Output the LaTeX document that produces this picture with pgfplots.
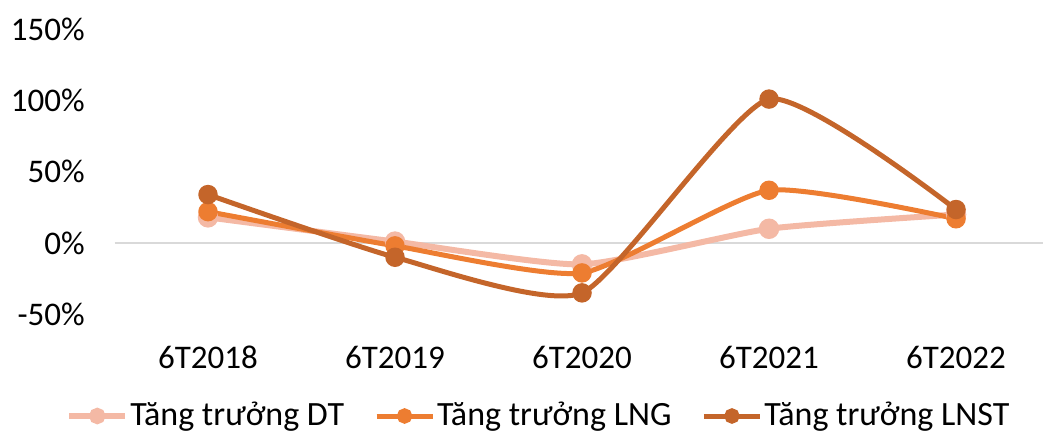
\documentclass[border=0pt]{standalone}
\usepackage{fontspec}
\setmainfont{Carlito}
\usepackage{pgfplots}
\pgfplotsset{compat=1.18}

\definecolor{dtcol}{HTML}{F4B9A5}
\definecolor{lngcol}{HTML}{ED7D31}
\definecolor{lnstcol}{HTML}{C4652A}
\definecolor{gridcol}{HTML}{D9D9D9}

\begin{document}
\fontsize{17pt}{20pt}\selectfont
\begin{tikzpicture}
\path[use as bounding box] (0,0) rectangle (521.5pt,217.5pt);
\begin{axis}[
    at={(57.25pt,60.375pt)}, anchor=south west,
    scale only axis,
    width=464.25pt, height=142.5pt,
    xmin=-0.5, xmax=4.465,
    ymin=-50, ymax=150,
    axis line style={draw=none},
    major tick length=0pt,
    xtick={0,1,2,3,4},
    xticklabels={6T2018,6T2019,6T2020,6T2021,6T2022},
    ytick={-50,0,50,100,150},
    yticklabel={\pgfmathprintnumber{\tick}\%},
    /pgf/number format/assume math mode=true,
    ticklabel style={font=\fontsize{16.5pt}{19pt}\selectfont},
    yticklabel style={xshift=-9pt},
    xticklabel style={yshift=-10pt},
    extra y ticks={0},
    extra y tick labels={},
    extra y tick style={ymajorgrids=true, major grid style={gridcol, line width=1pt}},
    legend style={draw=none, fill=none, at={(0.457,-0.357)}, anchor=center,
        font=\fontsize{17pt}{20pt}\selectfont,
        nodes={inner xsep=1pt},
        /tikz/every odd column/.append style={column sep=0pt},
        /tikz/every even column/.append style={column sep=14pt}},
    legend columns=-1,
    legend image code/.code={\draw[mark repeat=2, mark phase=2, #1, mark size=2.6pt]
        plot coordinates {(0pt,0pt) (14pt,0pt) (28pt,0pt)};},
    every axis plot/.append style={smooth, tension=0.333, mark=*, mark size=3.6pt},
    clip=false,
]
\addplot[color=dtcol, line width=3pt, mark options={fill=dtcol, draw=dtcol}] coordinates {
    (0,18) (1,1) (2,-15) (3,10) (4,20)
};
\addplot[color=lngcol, line width=2.5pt, mark options={fill=lngcol, draw=lngcol}] coordinates {
    (0,22) (1,-2) (2,-21) (3,37) (4,17)
};
\addplot[color=lnstcol, line width=2.5pt, mark options={fill=lnstcol, draw=lnstcol}] coordinates {
    (0,34) (1,-10) (2,-35) (3,101) (4,23.5)
};
\legend{Tăng trưởng DT, Tăng trưởng LNG, Tăng trưởng LNST}
\end{axis}
\end{tikzpicture}
\end{document}
